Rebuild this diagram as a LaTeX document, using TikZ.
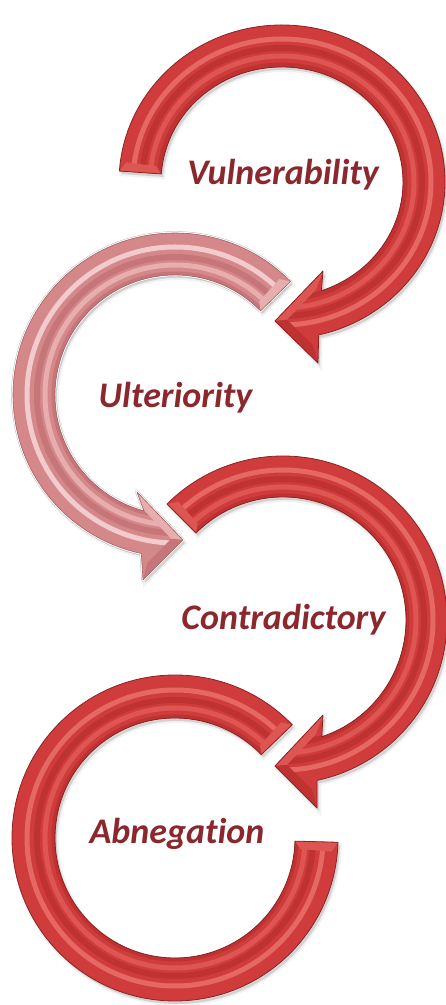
\documentclass[tikz,border=0pt]{standalone}
\usepackage{fontspec}
\setmainfont{Carlito}[Ligatures=NoCommon]
\usetikzlibrary{calc}
\definecolor{rbase}{RGB}{208,60,60}
\definecolor{rdark}{RGB}{140,34,36}
\definecolor{rmid}{RGB}{190,50,50}
\definecolor{rlight}{RGB}{222,86,82}
\definecolor{rhigh}{RGB}{230,104,98}
\definecolor{pbase}{RGB}{212,136,138}
\definecolor{pdark}{RGB}{170,96,100}
\definecolor{pmid}{RGB}{198,118,120}
\definecolor{plight}{RGB}{232,174,174}
\definecolor{phigh}{RGB}{242,204,204}
\definecolor{txt}{RGB}{139,40,46}
\tikzset{
  lbl/.style={font=\fontsize{36}{42}\selectfont\bfseries\itshape, text=txt, inner sep=0pt, anchor=base},
  shadowfill/.style={black, opacity=0.13, shift={(2,-3)}},
  shadowedge/.style={draw=black, draw opacity=0.05, line width=4pt, shift={(2,-3)}},
  redfill/.style={fill=rbase},
  rededge/.style={draw=rdark, line width=0.8pt, line join=round},
  pinkfill/.style={fill=pbase},
  pinkedge/.style={draw=pdark, line width=0.6pt, line join=round},
}
\def\pathA{([shift={(282,823)}]176:163 and 157) arc[start angle=176,end angle=-77,x radius=163,y radius=157] -- (318,642) -- (275,684) -- (323,734) -- ([shift={(282,823)}]-71:121 and 115) arc[start angle=-71,end angle=176,x radius=121,y radius=115] -- cycle}
\def\pathB{([shift={(175,610)}]44.5:162) arc[start angle=44.5,end angle=258,radius=162] -- (143,425) -- (183,465) -- (137,513) -- ([shift={(175,610)}]255:120) arc[start angle=255,end angle=44.5,radius=120] -- cycle}
\def\pathC{([shift={(283,385)}]135:164) arc[start angle=135,end angle=-78,radius=164] -- (317,197) -- (275,239) -- (323,290) -- ([shift={(283,385)}]-71.6:123) arc[start angle=-71.6,end angle=135,radius=123] -- cycle}
\def\pathD{([shift={(175,167)}]44:163) arc[start angle=44,end angle=358.5,radius=163] -- ([shift={(175,167)}]358.5:120) arc[start angle=358.5,end angle=44,radius=120] -- cycle}
\begin{document}
\begin{tikzpicture}[x=1pt,y=1pt]
\useasboundingbox (0,0) rectangle (446,1005);
\fill[white] (0,0) rectangle (446,1005);
% shadows
\foreach \p in {\pathA,\pathB,\pathC,\pathD}{
  \fill[shadowfill] \p;
  \path[shadowedge] \p;
}
% ---------- arrow 1 (Vulnerability) ----------
\coordinate (T1) at (275,684);
\coordinate (U1) at (323,734);
\coordinate (L1) at (318,642);
\coordinate (G1) at (305,687);
\fill[redfill] \pathA;
\begin{scope}
  \clip \pathA;
  \draw[rmid, line width=5pt] (282,823) ellipse [x radius=123, y radius=117];
  \draw[rlight, line width=5pt] (282,823) ellipse [x radius=132, y radius=126];
  \draw[rmid, line width=6pt] (282,823) ellipse [x radius=140, y radius=134];
  \draw[rhigh, line width=5pt] (282,823) ellipse [x radius=149, y radius=143];
  \fill[rlight] (T1) -- (U1) -- ($(G1)!0.6!(U1)$) -- ($(G1)!0.6!(T1)$) -- cycle;
  \fill[rmid] (T1) -- (L1) -- ($(G1)!0.6!(L1)$) -- ($(G1)!0.6!(T1)$) -- cycle;
  \fill[rlight] ([shift={(282,823)}]176:163 and 157) -- ([shift={(282,823)}]176:121 and 115) -- ([shift={(282,823)}]172.5:127 and 121) -- ([shift={(282,823)}]172.5:157 and 151) -- cycle;
\end{scope}
\path[rededge] \pathA;
% ---------- arrow 2 (Ulteriority) ----------
\coordinate (T2) at (183,465);
\coordinate (U2) at (137,513);
\coordinate (L2) at (143,425);
\coordinate (G2) at (154,468);
\draw[gray!60, line width=3.4pt, line join=round] \pathB;
\draw[white, line width=2.6pt, line join=round] \pathB;
\fill[pinkfill] \pathB;
\begin{scope}
  \clip \pathB;
  \draw[pmid, line width=5pt] (175,610) circle [radius=121];
  \draw[plight, line width=5pt] (175,610) circle [radius=130];
  \draw[pmid, line width=6pt] (175,610) circle [radius=138];
  \draw[phigh, line width=5pt] (175,610) circle [radius=148];
  \fill[plight] (T2) -- (U2) -- ($(G2)!0.6!(U2)$) -- ($(G2)!0.6!(T2)$) -- cycle;
  \fill[pmid] (T2) -- (L2) -- ($(G2)!0.6!(L2)$) -- ($(G2)!0.6!(T2)$) -- cycle;
  \fill[plight] ([shift={(175,610)}]44.5:162) -- ([shift={(175,610)}]44.5:120) -- ([shift={(175,610)}]48:126) -- ([shift={(175,610)}]48:156) -- cycle;
\end{scope}
\path[pinkedge] \pathB;
% ---------- arrow 3 (Contradictory) ----------
\coordinate (T3) at (275,239);
\coordinate (U3) at (323,290);
\coordinate (L3) at (317,197);
\coordinate (G3) at (305,242);
\fill[redfill] \pathC;
\begin{scope}
  \clip \pathC;
  \draw[rmid, line width=5pt] (283,385) circle [radius=124];
  \draw[rlight, line width=5pt] (283,385) circle [radius=133];
  \draw[rmid, line width=6pt] (283,385) circle [radius=141];
  \draw[rhigh, line width=5pt] (283,385) circle [radius=150];
  \fill[rlight] (T3) -- (U3) -- ($(G3)!0.6!(U3)$) -- ($(G3)!0.6!(T3)$) -- cycle;
  \fill[rmid] (T3) -- (L3) -- ($(G3)!0.6!(L3)$) -- ($(G3)!0.6!(T3)$) -- cycle;
  \fill[rlight] ([shift={(283,385)}]135:164) -- ([shift={(283,385)}]135:123) -- ([shift={(283,385)}]131.5:129) -- ([shift={(283,385)}]131.5:158) -- cycle;
\end{scope}
\path[rededge] \pathC;
% ---------- arrow 4 (Abnegation) ----------
\fill[redfill] \pathD;
\begin{scope}
  \clip \pathD;
  \draw[rmid, line width=5pt] (175,167) circle [radius=121];
  \draw[rlight, line width=5pt] (175,167) circle [radius=130];
  \draw[rmid, line width=6pt] (175,167) circle [radius=138];
  \draw[rhigh, line width=5pt] (175,167) circle [radius=148];
  \fill[rlight] ([shift={(175,167)}]44:163) -- ([shift={(175,167)}]44:120) -- ([shift={(175,167)}]47.5:126) -- ([shift={(175,167)}]47.5:157) -- cycle;
  \fill[rlight] ([shift={(175,167)}]358.5:163) -- ([shift={(175,167)}]358.5:120) -- ([shift={(175,167)}]355:126) -- ([shift={(175,167)}]355:157) -- cycle;
\end{scope}
\path[rededge] \pathD;
% ---------- labels ----------
\node[lbl] (vul) at (283,820) {Vulnerability};
\node[lbl] (ult) at (175.5,597) {Ulteriority};
\node[lbl] (con) at (283.5,375) {Contradictory};
\node[lbl] (abn) at (177,161) {Abnegation};
\end{tikzpicture}
\end{document}
